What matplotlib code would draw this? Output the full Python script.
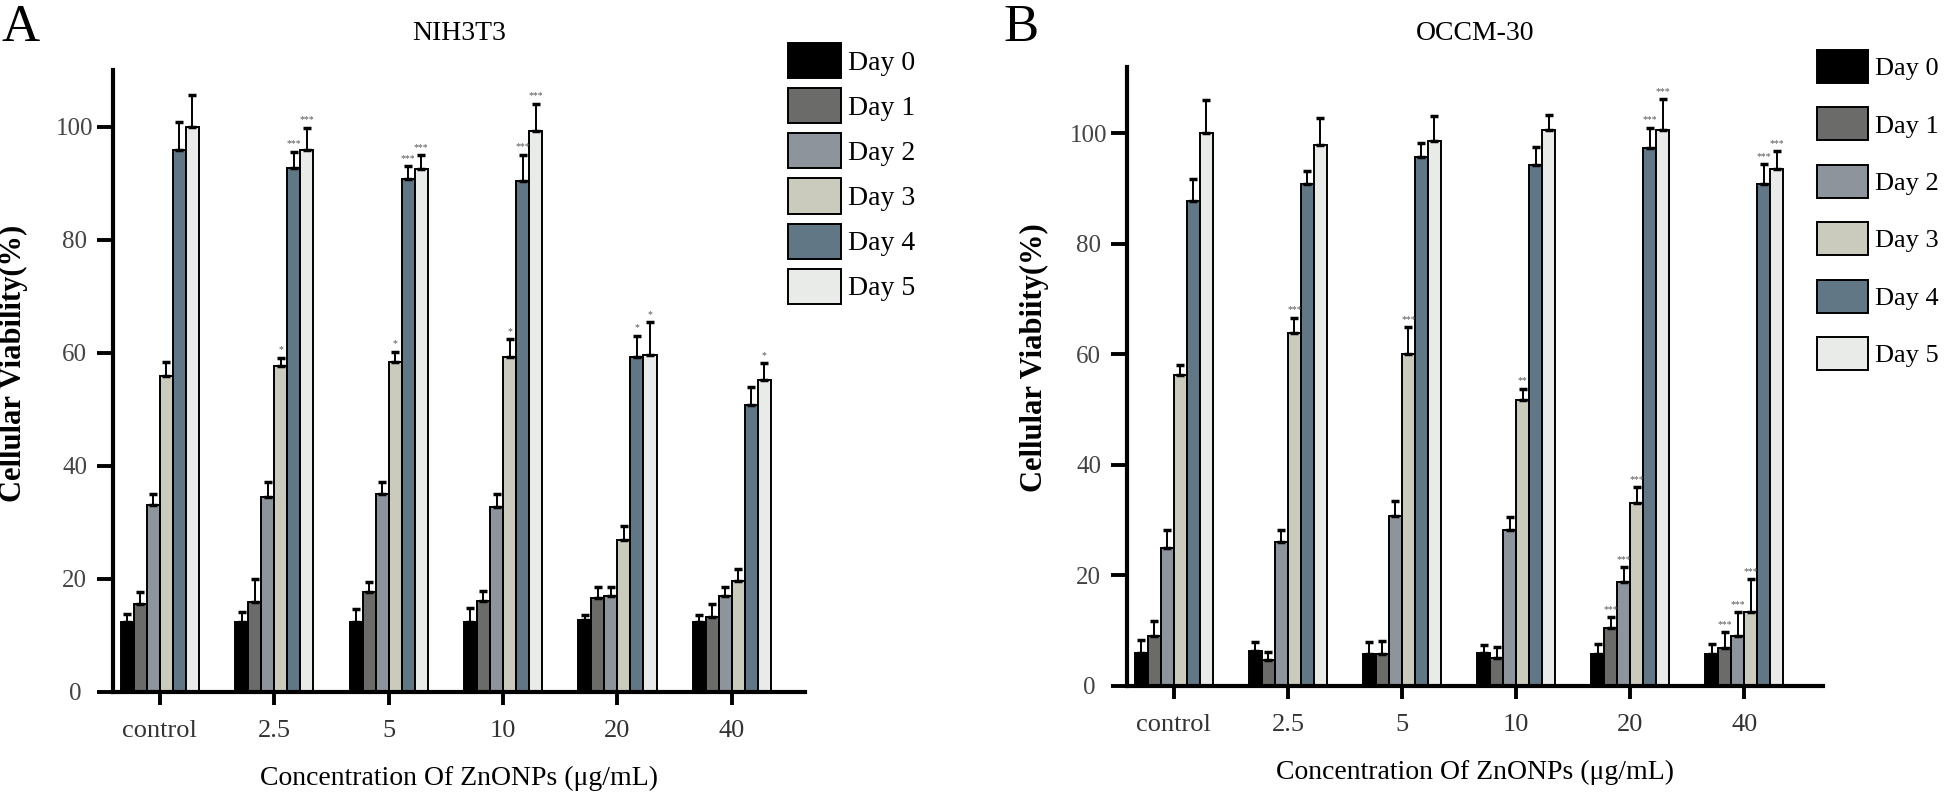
import matplotlib
matplotlib.use('Agg')
import matplotlib.pyplot as plt
import numpy as np

plt.rcParams['font.family'] = ['Liberation Serif', 'DejaVu Serif']

concs = ['control', '2.5', '5', '10', '20', '40']
days = ['Day 0', 'Day 1', 'Day 2', 'Day 3', 'Day 4', 'Day 5']
colors = ['#000000', '#6b6b69', '#8d949c', '#cbcbbd', '#627786', '#e9ebe9']

# NIH3T3: rows = days, columns = concentrations
nih_mean = [
    [12.3, 12.3, 12.4, 12.3, 12.7, 12.4],
    [15.5, 16.0, 17.6, 16.1, 16.7, 13.2],
    [33.0, 34.4, 35.0, 32.8, 17.0, 16.9],
    [55.8, 57.6, 58.3, 59.2, 26.8, 19.6],
    [95.8, 92.7, 90.8, 90.4, 59.3, 50.8],
    [99.9, 95.9, 92.5, 99.3, 59.6, 55.2],
]
nih_err = [
    [1.5, 1.9, 2.2, 2.5, 1.0, 1.2],
    [2.1, 3.9, 1.9, 1.8, 1.8, 2.3],
    [2.0, 2.8, 2.2, 2.2, 1.5, 1.6],
    [2.5, 1.5, 1.9, 3.2, 2.5, 2.2],
    [5.0, 2.8, 2.2, 4.6, 3.7, 3.1],
    [5.6, 3.9, 2.4, 4.7, 5.8, 2.9],
]
nih_sig = [
    ['', '', '', '', '', ''],
    ['', '', '', '', '', ''],
    ['', '', '', '', '', ''],
    ['', '*', '*', '*', '', ''],
    ['', '***', '***', '***', '*', ''],
    ['', '***', '***', '***', '*', '*'],
]

# OCCM-30
occ_mean = [
    [6.0, 6.4, 5.7, 5.9, 5.8, 5.7],
    [9.1, 4.7, 5.7, 5.0, 10.5, 6.8],
    [24.9, 26.0, 30.7, 28.3, 18.8, 9.1],
    [56.3, 63.8, 60.1, 51.8, 33.2, 13.4],
    [87.7, 90.9, 95.7, 94.3, 97.4, 90.8],
    [100.1, 97.9, 98.6, 100.6, 100.6, 93.5],
]
occ_err = [
    [2.3, 1.6, 2.3, 1.5, 1.8, 1.9],
    [2.6, 1.4, 2.5, 2.1, 1.9, 2.9],
    [3.3, 2.3, 2.7, 2.3, 2.7, 4.3],
    [1.8, 2.8, 4.8, 2.0, 2.8, 5.9],
    [4.1, 2.3, 2.6, 3.2, 3.6, 3.6],
    [5.9, 4.8, 4.5, 2.7, 5.6, 3.3],
]
occ_sig = [
    ['', '', '', '', '', ''],
    ['', '', '', '', '***', '***'],
    ['', '', '', '', '***', '***'],
    ['', '***', '***', '**', '***', '***'],
    ['', '', '', '', '***', '***'],
    ['', '', '', '', '***', '***'],
]

fig = plt.figure(figsize=(19.46, 8.08), dpi=100)
W, H = 1946.0, 808.0


def panel(rect, mean, err, sig, ylim, xlim, title, ylabel, letter, lpos, lspace, lfs, lhl, lhh):
    l, t, r, b = rect
    ax = fig.add_axes([l / W, 1 - b / H, (r - l) / W, (b - t) / H])
    x = np.arange(len(concs))
    w = 0.114
    handles = []
    for i in range(len(days)):
        xs = x + (i - 2.5) * w
        m = np.array(mean[i])
        e = np.array(err[i])
        bars = ax.bar(xs, m, w, color=colors[i], edgecolor='black', linewidth=1.4,
                      label=days[i], zorder=2)
        handles.append(bars)
        ax.errorbar(xs, m, yerr=[np.zeros_like(e), e], fmt='none', ecolor='black',
                    elinewidth=1.4, capsize=3, capthick=2.5, zorder=3)
        for j in range(len(concs)):
            if sig[i][j]:
                ax.text(xs[j], m[j] + e[j] + 0.6, sig[i][j], ha='center', va='bottom',
                        fontsize=7, color='#555555')
    ax.set_xlim(*xlim)
    ax.set_ylim(*ylim)
    ax.set_xticks(x)
    ax.set_xticklabels(concs, fontsize=19, color='#333333')
    ax.set_yticks([0, 20, 40, 60, 80, 100])
    ax.set_yticklabels(['0', '20', '40', '60', '80', '100'], fontsize=18, color='#444444')
    for lab in ax.get_yticklabels():
        lab.set_horizontalalignment('center')
    ax.tick_params(axis='y', length=11.5, width=2.8, pad=16)
    ax.tick_params(axis='x', length=9.5, width=2.8, pad=11)
    for s in ['top', 'right']:
        ax.spines[s].set_visible(False)
    for s in ['left', 'bottom']:
        ax.spines[s].set_linewidth(3)
    cx = (l + r) / 2
    fig.text(cx / W, 1 - 33 / H, title, ha='center', va='center', fontsize=20)
    ax.set_xlabel('Concentration Of ZnONPs (\u03bcg/mL)', fontsize=20, labelpad=17)
    fig.text(ylabel[1] / W, 1 - ylabel[2] / H, ylabel[0], rotation=90, ha='center',
             va='center', fontsize=22, fontweight='bold')
    fig.text(letter[1] / W, 1 - 4 / H, letter[0], ha='left', va='top', fontsize=38)
    fig.legend(handles, days, loc='upper left', bbox_to_anchor=(lpos[0] / W, 1 - lpos[1] / H),
               frameon=False, fontsize=lfs, handlelength=lhl, handleheight=lhh,
               labelspacing=lspace, handletextpad=0.25, borderpad=0, borderaxespad=0)
    return ax


panel((113, 70, 805, 692), nih_mean, nih_err, nih_sig, (0, 110), (-0.41, 5.64),
      'NIH3T3', ('Cellular Viability(%)', 13, 363), ('A', 2), (788, 43), 0.36, 20, 1.9, 1.57)
panel((1127, 67, 1823, 686), occ_mean, occ_err, occ_sig, (0, 112), (-0.41, 5.69),
      'OCCM-30', ('Cellular Viabiity(%)', 1034, 358), ('B', 1003), (1817, 50), 0.93, 19, 1.95, 1.54)

fig.savefig('out.png', dpi=100)
